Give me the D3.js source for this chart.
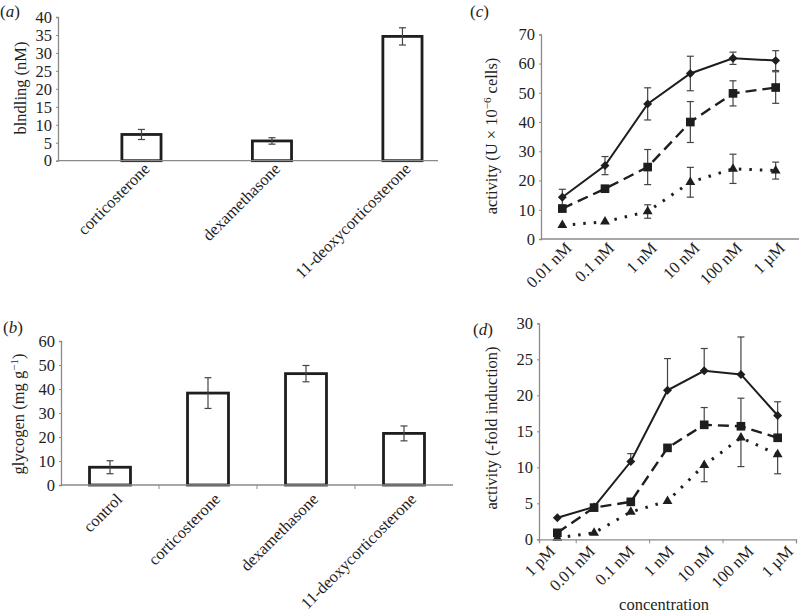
<!DOCTYPE html>
<html><head><meta charset="utf-8">
<script src="https://cdn.jsdelivr.net/npm/d3@7"></script>
<style>
body{margin:0;background:#fff;}
svg{display:block;font-family:"Liberation Serif","Times New Roman",serif;}
svg text{font-family:"Liberation Serif","Times New Roman",serif;}
</style></head>
<body>
<svg id="chart" width="800" height="615"></svg>
<script>
// ---------- DATA ----------
const aCats = ["corticosterone","dexamethasone","11-deoxycorticosterone"];
const aVals = [7.3, 5.5, 34.6];
const aErr  = [1.4, 0.9, 2.4];
const aTicks = [0,5,10,15,20,25,30,35,40];

const bCats = ["control","corticosterone","dexamethasone","11-deoxycorticosterone"];
const bVals = [7.4, 38.3, 46.4, 21.5];
const bErr  = [2.7, 6.4, 3.4, 3.1];
const bTicks = [0,10,20,30,40,50,60];

const cConc = ["0.01 nM","0.1 nM","1 nM","10 nM","100 nM","1 µM"];
const cDiamond = [14.3, 25.1, 46.2, 56.6, 61.8, 61.0];
const cDiamondErr = [2.7, 3.1, 5.5, 5.9, 2.1, 3.4];
const cSquare = [10.4, 17.2, 24.6, 40.0, 49.8, 51.8];
const cSquareErr = [0, 0, 6.0, 7.0, 4.3, 5.4];
const cTriangle = [4.7, 5.9, 9.4, 19.4, 24.0, 23.4];
const cTriangleErr = [0, 0, 2.3, 5.1, 5.0, 2.9];
const cTicks = [0,10,20,30,40,50,60,70];

const dConc = ["1 pM","0.01 nM","0.1 nM","1 nM","10 nM","100 nM","1 µM"];
const dDiamond = [3.0, 4.5, 10.8, 20.7, 23.4, 22.9, 17.2];
const dDiamondErrUp = [0, 0, 1.1, 4.4, 3.1, 5.2, 1.9];
const dSquare = [0.9, 4.4, 5.2, 12.7, 15.9, 15.7, 14.1];
const dSquareErrUp = [0, 0, 0, 0, 2.4, 3.9, 3.0];
const dTriangle = [0.2, 0.9, 3.8, 5.3, 10.3, 14.1, 11.8];
const dTriangleErrDown = [0, 0, 0, 0, 2.3, 4.0, 2.7];
const dTicks = [0,5,10,15,20,25,30];
const dXTicks = [0.5, 2.5, 4.5, 6.5];

// ---------- STYLE ----------
const INK = "#1e1e1e", AXIS = "#8a8a8a", ERR = "#444";
const svg = d3.select("#chart");
const FS = 16.5;
const FONT = "Liberation Serif";

function panelLabel(x, y, letter){
  const t = svg.append("text").attr("x", x).attr("y", y).attr("font-size", 17).attr("fill", INK);
  t.append("tspan").text("(");
  t.append("tspan").attr("font-style","italic").text(letter);
  t.append("tspan").text(")");
}

function yAxis(y, x0, ticks){
  const g = svg.append("g").attr("transform", `translate(${x0},0)`)
    .call(d3.axisLeft(y).tickValues(ticks).tickSize(2).tickPadding(4).tickFormat(d3.format("d")));
  g.attr("font-family", FONT);
  g.select(".domain").attr("stroke", AXIS).attr("stroke-width", 1.3);
  g.selectAll(".tick line").attr("stroke", AXIS);
  g.selectAll("text").attr("font-size", FS).attr("fill", INK);
  return g;
}

function yTitle(x, y, build){
  const t = svg.append("text").attr("transform", `translate(${x},${y}) rotate(-90)`)
    .attr("text-anchor","middle").attr("font-size", FS).attr("fill", INK);
  build(t);
}

function xLabels(pos, labels, y0, dx, dy){
  labels.forEach((l, i) => {
    svg.append("text").attr("transform", `translate(${pos(i)+dx},${y0+dy}) rotate(-45)`)
      .attr("text-anchor","end").attr("dy","0.7em").attr("font-size", FS).attr("fill", INK).text(l);
  });
}

function errBar(g, x, yTop, yBot){
  g.append("line").attr("x1",x).attr("x2",x).attr("y1",yTop).attr("y2",yBot).attr("stroke",ERR).attr("stroke-width",1.2);
  [yTop, yBot].forEach(yy => g.append("line").attr("x1",x-3.5).attr("x2",x+3.5).attr("y1",yy).attr("y2",yy).attr("stroke",ERR).attr("stroke-width",1.2));
}

// ---------- PANEL A ----------
{
  const x = d3.scaleBand().domain(aCats).range([58, 438]).paddingInner(0.7).paddingOuter(0.306).align(0.8);
  const y = d3.scaleLinear().domain([0, 40]).range([160.7, 17]);
  const g = svg.append("g");
  g.selectAll("rect").data(aCats).join("rect")
    .attr("x", d => x(d)).attr("width", x.bandwidth())
    .attr("y", (d,i) => y(aVals[i])).attr("height", (d,i) => y(0) - y(aVals[i]))
    .attr("fill","#fff").attr("stroke", INK).attr("stroke-width", 2.8);
  aCats.forEach((c,i) => errBar(g, x(c)+x.bandwidth()/2, y(aVals[i]+aErr[i]), y(aVals[i]-aErr[i])));
  svg.append("line").attr("x1",58).attr("x2",438).attr("y1",y(0)).attr("y2",y(0)).attr("stroke",AXIS).attr("stroke-width",1.3);
  yAxis(y, 58, aTicks);
  xLabels(i => x(aCats[i]) + x.bandwidth()/2, aCats, y(0), 1, 1);
  yTitle(26, 88, t => t.text("blndling (nM)"));
  panelLabel(0, 17, "a");
}

// ---------- PANEL B ----------
{
  const x = d3.scaleBand().domain(bCats).range([61, 453]).paddingInner(0.582).paddingOuter(0.291);
  const y = d3.scaleLinear().domain([0, 60]).range([485, 341]);
  const g = svg.append("g");
  g.selectAll("rect").data(bCats).join("rect")
    .attr("x", d => x(d)).attr("width", x.bandwidth())
    .attr("y", (d,i) => y(bVals[i])).attr("height", (d,i) => y(0) - y(bVals[i]))
    .attr("fill","#fff").attr("stroke", INK).attr("stroke-width", 2.8);
  bCats.forEach((c,i) => errBar(g, x(c)+x.bandwidth()/2, y(bVals[i]+bErr[i]), y(bVals[i]-bErr[i])));
  svg.append("line").attr("x1",61).attr("x2",453).attr("y1",y(0)).attr("y2",y(0)).attr("stroke",AXIS).attr("stroke-width",1.3);
  bCats.slice(1).forEach(c => {
    const xx = x(c) - x.step()*x.paddingInner()/2;
    svg.append("line").attr("x1",xx).attr("x2",xx).attr("y1",y(0)).attr("y2",y(0)+4).attr("stroke",AXIS);
  });
  yAxis(y, 61, bTicks);
  xLabels(i => x(bCats[i]) + x.bandwidth()/2, bCats, y(0), 5, 7);
  yTitle(24, 414, t => {
    t.append("tspan").text("glycogen (mg g");
    t.append("tspan").attr("baseline-shift","super").attr("font-size",11).text("−1");
    t.append("tspan").text(")");
  });
  panelLabel(3, 333, "b");
}

// ---------- line panel helper ----------
function drawSeries(g, x, y, vals, opts){
  const line = d3.line().x((d,i) => x(i)).y(d => y(d));
  g.append("path").datum(vals).attr("d", line).attr("fill","none")
    .attr("stroke", INK).attr("stroke-width", opts.width)
    .attr("stroke-dasharray", opts.dash || null).attr("stroke-linecap", opts.cap || "butt");
}
function drawErr(g, x, y, vals, up, down){
  vals.forEach((v,i) => {
    const u = up ? up[i] : 0, dn = down ? down[i] : 0;
    if (u === 0 && dn === 0) return;
    const xx = x(i);
    const y1 = y(v + u), y2 = y(v - dn);
    g.append("line").attr("x1",xx).attr("x2",xx).attr("y1",y1).attr("y2",y2).attr("stroke",ERR).attr("stroke-width",1.2);
    if (u > 0) g.append("line").attr("x1",xx-3.5).attr("x2",xx+3.5).attr("y1",y1).attr("y2",y1).attr("stroke",ERR).attr("stroke-width",1.2);
    if (dn > 0) g.append("line").attr("x1",xx-3.5).attr("x2",xx+3.5).attr("y1",y2).attr("y2",y2).attr("stroke",ERR).attr("stroke-width",1.2);
  });
}
function drawMarkers(g, x, y, vals, type, size, rot){
  const sym = d3.symbol().type(type).size(size);
  g.selectAll(null).data(vals).join("path")
    .attr("d", sym).attr("fill", INK)
    .attr("transform", (d,i) => `translate(${x(i)},${y(d)}) rotate(${rot||0})`);
}

// ---------- PANEL C ----------
{
  const x = d3.scaleLinear().domain([-0.5, 5.5]).range([541, 797]);
  const y = d3.scaleLinear().domain([0, 70]).range([239, 34.3]);
  const g = svg.append("g");
  drawSeries(g, x, y, cTriangle, {width:3, dash:"2.5,8"});
  drawSeries(g, x, y, cSquare, {width:2.4, dash:"11,6"});
  drawSeries(g, x, y, cDiamond, {width:2});
  drawErr(g, x, y, cDiamond, cDiamondErr, cDiamondErr);
  drawErr(g, x, y, cSquare, cSquareErr, cSquareErr);
  drawErr(g, x, y, cTriangle, cTriangleErr, cTriangleErr);
  drawMarkers(g, x, y, cDiamond, d3.symbolSquare, 40, 45);
  drawMarkers(g, x, y, cSquare, d3.symbolSquare, 75, 0);
  drawMarkers(g, x, y, cTriangle, d3.symbolTriangle, 42, 0);
  svg.append("line").attr("x1",541).attr("x2",799).attr("y1",y(0)).attr("y2",y(0)).attr("stroke",AXIS).attr("stroke-width",1.3);
  yAxis(y, 541, cTicks);
  xLabels(i => x(i), cConc, y(0), 2, 2);
  yTitle(497, 136, t => {
    t.append("tspan").text("activity (U × 10");
    t.append("tspan").attr("baseline-shift","super").attr("font-size",11).text("−6");
    t.append("tspan").text(" cells)");
  });
  panelLabel(470, 17, "c");
}

// ---------- PANEL D ----------
{
  const x = d3.scaleLinear().domain([-0.5, 6.5]).range([539, 796]);
  const xLab = d3.scaleLinear().domain([0, 6]).range([548, 786]);
  const y = d3.scaleLinear().domain([0, 30]).range([539.3, 323.3]);
  const g = svg.append("g");
  drawSeries(g, x, y, dTriangle, {width:3, dash:"2.5,8"});
  drawSeries(g, x, y, dSquare, {width:2.4, dash:"11,6"});
  drawSeries(g, x, y, dDiamond, {width:2});
  drawErr(g, x, y, dDiamond, dDiamondErrUp, null);
  drawErr(g, x, y, dSquare, dSquareErrUp, null);
  drawErr(g, x, y, dTriangle, null, dTriangleErrDown);
  drawMarkers(g, x, y, dDiamond, d3.symbolSquare, 40, 45);
  drawMarkers(g, x, y, dSquare, d3.symbolSquare, 75, 0);
  drawMarkers(g, x, y, dTriangle, d3.symbolTriangle, 42, 0);
  const xa = svg.append("g").attr("transform", `translate(0,${y(0)})`)
    .call(d3.axisBottom(x).tickValues(dXTicks).tickSize(4).tickFormat(""));
  xa.select(".domain").attr("stroke", AXIS).attr("stroke-width",1.3);
  xa.selectAll(".tick line").attr("stroke", AXIS);
  yAxis(y, 539, dTicks);
  xLabels(i => xLab(i), dConc, y(0), 0, 5);
  yTitle(497, 428, t => t.text("activity (-fold induction)"));
  svg.append("text").attr("x", 664).attr("y", 610).attr("text-anchor","middle").attr("font-size", FS).attr("fill", INK).text("concentration");
  panelLabel(473, 335, "d");
}
</script>
</body></html>
